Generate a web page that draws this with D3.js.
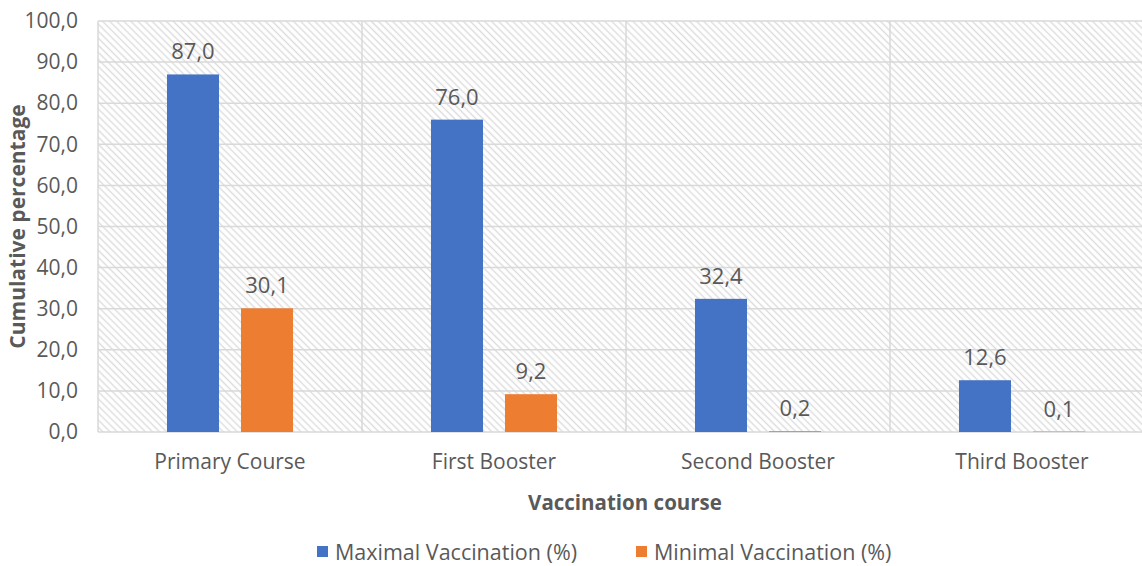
<!DOCTYPE html>
<html>
<head>
<meta charset="utf-8">
<script src="https://cdn.jsdelivr.net/npm/d3@7"></script>
<style>
  html, body { margin: 0; padding: 0; background: #fff; }
  svg { display: block; font-family: "Open Sans", sans-serif; }
</style>
</head>
<body>
<div id="chart"></div>
<script>
const categories = ["Primary Course", "First Booster", "Second Booster", "Third Booster"];
const seriesNames = ["Maximal Vaccination (%)", "Minimal Vaccination (%)"];
const maximalValues = [87.0, 76.0, 32.4, 12.6];
const minimalValues = [30.1, 9.2, 0.2, 0.1];
const yTicks = [0, 10, 20, 30, 40, 50, 60, 70, 80, 90, 100];
const colors = ["#4472C4", "#ED7D31"];

const width = 1142, height = 566;
const margin = { top: 21, left: 98, bottom: 134 };
// plot area runs a little past the right edge, as in the picture
const plotRight = 1154;
const textColor = "#595959";

const svg = d3.select("#chart").append("svg")
    .attr("width", width)
    .attr("height", height);

// hatch fill for the plot background
const defs = svg.append("defs");
defs.append("pattern")
    .attr("id", "hatch")
    .attr("patternUnits", "userSpaceOnUse")
    .attr("width", 5)
    .attr("height", 5)
    .attr("patternTransform", "rotate(45)")
  .append("line")
    .attr("x1", 0).attr("y1", 2.5)
    .attr("x2", 5).attr("y2", 2.5)
    .attr("stroke", "#dcdcdc")
    .attr("stroke-width", 1.4);

const x = d3.scaleBand()
    .domain(categories)
    .range([margin.left, plotRight])
    .padding(0);

const xInner = d3.scaleBand()
    .domain(seriesNames)
    .range([0, x.bandwidth()])
    .paddingInner(0.297)
    .paddingOuter(0.932);

const y = d3.scaleLinear()
    .domain([0, 100])
    .range([height - margin.bottom, margin.top]);

svg.append("rect")
    .attr("x", margin.left)
    .attr("y", y(100))
    .attr("width", plotRight - margin.left)
    .attr("height", y(0) - y(100))
    .attr("fill", "url(#hatch)");

// horizontal gridlines
svg.append("g")
    .selectAll("line")
    .data(yTicks)
    .join("line")
      .attr("x1", margin.left)
      .attr("x2", plotRight)
      .attr("y1", d => y(d))
      .attr("y2", d => y(d))
      .attr("stroke", "#d9d9d9")
      .attr("stroke-width", 1.5);

// vertical category separators
svg.append("g")
    .selectAll("line")
    .data(categories)
    .join("line")
      .attr("x1", d => x(d))
      .attr("x2", d => x(d))
      .attr("y1", y(0))
      .attr("y2", y(100))
      .attr("stroke", "#d9d9d9")
      .attr("stroke-width", 1.5);

// y axis labels
const yAxis = svg.append("g")
    .attr("transform", `translate(${margin.left},0)`)
    .call(d3.axisLeft(y).tickValues(yTicks).tickSize(0).tickPadding(20)
        .tickFormat(d => d3.format(".1f")(d).replace(".", ",")));
yAxis.select(".domain").remove();
yAxis.selectAll("text")
    .attr("fill", textColor)
    .attr("font-size", "21px")
    .attr("font-family", "Open Sans, sans-serif");

// x axis labels
const xAxis = svg.append("g")
    .attr("transform", `translate(0,${y(0)})`)
    .call(d3.axisBottom(x).tickSize(0).tickPadding(22));
xAxis.select(".domain").remove();
xAxis.selectAll("text")
    .attr("fill", textColor)
    .attr("font-size", "21px")
    .attr("font-family", "Open Sans, sans-serif");

// bars
const rows = categories.map((c, i) => ({
    category: c,
    values: [
        { series: seriesNames[0], value: maximalValues[i] },
        { series: seriesNames[1], value: minimalValues[i] }
    ]
}));

const groups = svg.append("g")
    .selectAll("g")
    .data(rows)
    .join("g")
      .attr("transform", d => `translate(${x(d.category)},0)`);

groups.selectAll("rect")
    .data(d => d.values)
    .join("rect")
      .attr("x", d => xInner(d.series))
      .attr("y", d => y(d.value))
      .attr("width", xInner.bandwidth())
      .attr("height", d => y(0) - y(d.value))
      .attr("fill", (d, i) => colors[i]);

groups.selectAll("text")
    .data(d => d.values)
    .join("text")
      .attr("x", d => xInner(d.series) + xInner.bandwidth() / 2)
      .attr("y", d => y(d.value) - 15)
      .attr("text-anchor", "middle")
      .attr("fill", textColor)
      .attr("font-size", "22px")
      .text(d => d3.format(".1f")(d.value).replace(".", ","));

// axis titles
svg.append("text")
    .attr("x", 625)
    .attr("y", 510)
    .attr("text-anchor", "middle")
    .attr("fill", textColor)
    .attr("font-size", "20.5px")
    .attr("font-weight", "bold")
    .text("Vaccination course");

svg.append("text")
    .attr("transform", `translate(25,${(y(0) + y(100)) / 2}) rotate(-90)`)
    .attr("text-anchor", "middle")
    .attr("fill", textColor)
    .attr("font-size", "21px")
    .attr("font-weight", "bold")
    .text("Cumulative percentage");

// legend
const legendX = [317, 636];
const legend = svg.append("g")
    .selectAll("g")
    .data(seriesNames)
    .join("g")
      .attr("transform", (d, i) => `translate(${legendX[i]},552)`);
legend.append("rect")
    .attr("x", 0).attr("y", -6)
    .attr("width", 11).attr("height", 11)
    .attr("fill", (d, i) => colors[i]);
legend.append("text")
    .attr("x", 18)
    .attr("y", 8)
    .attr("fill", textColor)
    .attr("font-size", "21.5px")
    .text(d => d);
</script>
</body>
</html>
